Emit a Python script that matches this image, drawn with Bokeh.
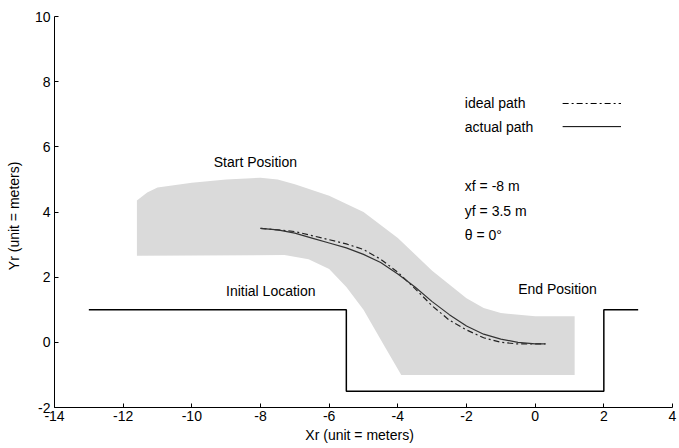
from bokeh.plotting import figure
from bokeh.models import Range1d, FixedTicker
from bokeh.embed import file_html
from bokeh.resources import INLINE
from bokeh.core.properties import value

# ---- data ----
x_ticks = [-14, -12, -10, -8, -6, -4, -2, 0, 2, 4]
y_ticks = [-2, 0, 2, 4, 6, 8, 10]

# parking space boundary (curb)
curb_x = [-13, -5.5, -5.5, 2, 2, 3]
curb_y = [1, 1, -1.5, -1.5, 1, 1]

# swept area of the vehicle (gray region)
area_x = [-11.6, -11.3, -11.0, -10.0, -9.0, -8.0, -7.5, -7.0, -6.0, -5.0, -4.0, -3.0, -2.0,
          -1.5, -1.0, 0.0, 1.15, 1.15, -3.9, -4.4, -5.0, -5.5, -6.0, -6.6, -7.3, -11.6]
area_y = [4.35, 4.6, 4.75, 4.9, 5.0, 5.05, 5.0, 4.85, 4.5, 4.0, 3.2, 2.2, 1.35,
          1.05, 0.9, 0.8, 0.8, -1.0, -1.0, -0.1, 1.0, 1.7, 2.25, 2.55, 2.68, 2.66]

# actual path
act_x = [-8, -7.5, -7, -6.5, -6, -5.5, -5, -4.5, -4, -3.5, -3, -2.5, -2, -1.5, -1, -0.5, 0, 0.3]
act_y = [3.5, 3.45, 3.35, 3.2, 3.05, 2.9, 2.7, 2.45, 2.1, 1.7, 1.25, 0.85, 0.5, 0.25, 0.1, 0.0, -0.05, -0.05]

# ideal path
ide_x = [-8, -7, -6, -5.5, -5, -4.5, -4, -3.5, -3, -2.5, -2, -1.5, -1, -0.5, 0, 0.3]
ide_y = [3.5, 3.4, 3.15, 3.02, 2.85, 2.55, 2.15, 1.65, 1.12, 0.68, 0.38, 0.14, 0.0, -0.05, -0.05, -0.05]

FONT = "Liberation Sans"

p = figure(width=679, height=448, output_backend="svg", toolbar_location=None,
           x_range=Range1d(-14, 4), y_range=Range1d(-2, 10),
           min_border_left=54, min_border_right=7, min_border_top=16, min_border_bottom=41)
p.outline_line_color = None
p.xgrid.visible = False
p.ygrid.visible = False
p.background_fill_color = "white"

for ax in (p.xaxis[0], p.yaxis[0]):
    ax.major_tick_in = 4
    ax.major_tick_out = 0
    ax.minor_tick_line_color = None
    ax.axis_line_color = "black"
    ax.major_tick_line_color = "black"
    ax.major_label_text_font = FONT
    ax.major_label_text_font_size = "14px"
    ax.major_label_text_color = "black"
    ax.axis_label_text_font = FONT
    ax.axis_label_text_font_size = "14px"
    ax.axis_label_text_font_style = "normal"
    ax.axis_label_text_color = "black"

p.xaxis.ticker = FixedTicker(ticks=x_ticks)
p.yaxis.ticker = FixedTicker(ticks=y_ticks)
p.xaxis.major_label_overrides = {t: str(t) for t in x_ticks}
p.yaxis.major_label_overrides = {t: str(t) for t in y_ticks}
p.xaxis.axis_label = "Xr   (unit = meters)"
p.yaxis.axis_label = "Yr   (unit = meters)"
p.xaxis.major_label_standoff = 3
p.xaxis.axis_label_standoff = 3
p.yaxis.major_label_standoff = 4
p.yaxis.axis_label_standoff = 10

# gray swept area
p.patch(area_x, area_y, fill_color="#dadada", line_color=None)

# curb
p.line(curb_x, curb_y, line_color="black", line_width=1.5)

# paths
p.line(ide_x, ide_y, line_color="#222222", line_width=1.2, line_dash="6 3 2 3")
p.line(act_x, act_y, line_color="#333333", line_width=1.2)

# legend (manual)
p.text([-2.05], [7.33], text=["ideal path"], text_font=value(FONT), text_font_size="14px",
       text_baseline="middle", text_align="left", text_color="black")
p.text([-2.05], [6.62], text=["actual path"], text_font=value(FONT), text_font_size="14px",
       text_baseline="middle", text_align="left", text_color="black")
p.line([0.8, 2.5], [7.33, 7.33], line_color="black", line_width=1, line_dash="6 3 2 3")
p.line([0.8, 2.5], [6.62, 6.62], line_color="black", line_width=1)

# annotations
p.text([-2.05], [4.81], text=["xf = -8 m"], text_font=value(FONT), text_font_size="14px",
       text_baseline="middle", text_align="left", text_color="black")
p.text([-2.05], [4.04], text=["yf =  3.5 m"], text_font=value(FONT), text_font_size="14px",
       text_baseline="middle", text_align="left", text_color="black")
p.text([-2.05], [3.28], text=["θ  =  0°"], text_font=value(FONT), text_font_size="14px",
       text_baseline="middle", text_align="left", text_color="black")
p.text([-8.15], [5.52], text=["Start Position"], text_font=value(FONT), text_font_size="14px",
       text_baseline="middle", text_align="center", text_color="black")
p.text([-7.7], [1.59], text=["Initial Location"], text_font=value(FONT), text_font_size="14px",
       text_baseline="middle", text_align="center", text_color="black")
p.text([0.65], [1.65], text=["End Position"], text_font=value(FONT), text_font_size="14px",
       text_baseline="middle", text_align="center", text_color="black")

open("out.html", "w").write(file_html(p, INLINE))
